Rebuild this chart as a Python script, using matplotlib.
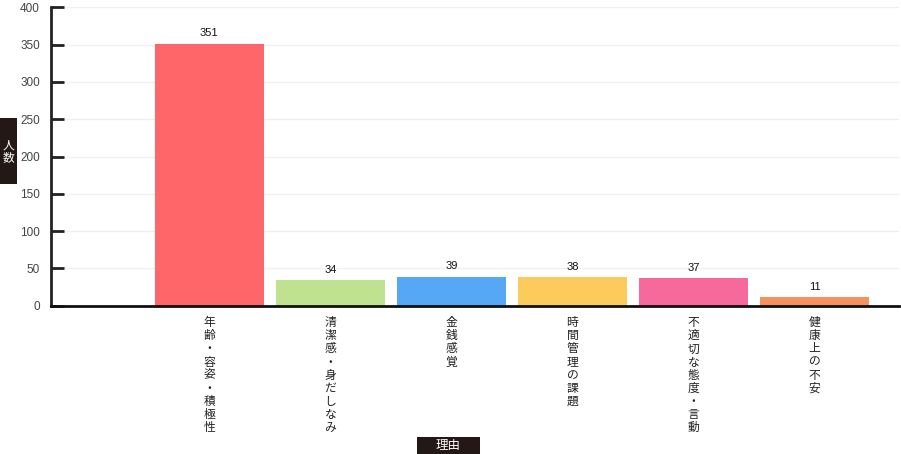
import matplotlib
matplotlib.use('Agg')
import matplotlib.pyplot as plt
from matplotlib.patches import Rectangle

plt.rcParams['font.family'] = ['Noto Sans CJK JP', 'DejaVu Sans']

# データ
reasons = ['年齢・容姿・積極性', '清潔感・身だしなみ', '金銭感覚', '時間管理の課題', '不適切な態度・言動', '健康上の不安']
counts = [351, 34, 39, 38, 37, 11]
barColors = ['#FF6669', '#BEE28F', '#56A8F6', '#FDCB5C', '#F5699B', '#F69260']
yTicks = [0, 50, 100, 150, 200, 250, 300, 350, 400]
xTitle = '理由'
yTitle = '人数'

W, H = 901, 454
fig = plt.figure(figsize=(W / 100, H / 100), dpi=100)
ax = fig.add_axes([51 / W, (H - 305.7) / H, (899 - 51) / W, (305.7 - 7.3) / H])

xs = list(range(len(reasons)))
bars = ax.bar(xs, counts, width=0.9, color=barColors, zorder=2)

numFont = ['Liberation Sans', 'DejaVu Sans']

# 棒の上の数値
for x, v in zip(xs, counts):
    ax.annotate(str(v), (x, v), xytext=(0, 4), textcoords='offset points',
                ha='center', va='bottom', fontsize=8, color='#111111', family=numFont)

ax.set_xlim(-1.308, 5.698)
ax.set_ylim(0, 400)
ax.set_yticks(yTicks)
ax.set_yticklabels([str(t) for t in yTicks], fontsize=8.5, color='#444444', family=numFont)
ax.tick_params(axis='y', direction='in', length=9, width=2, color='#222222', pad=8)
ax.set_xticks([])
ax.grid(axis='y', color='#F0F0F0', linewidth=1, zorder=0)

for s in ['top', 'right']:
    ax.spines[s].set_visible(False)
ax.spines['left'].set_linewidth(2)
ax.spines['left'].set_color('#222222')
ax.spines['bottom'].set_linewidth(2)
ax.spines['bottom'].set_color('#111111')

# 縦書きのラベル(1文字ずつ)
step = 9.45  # pt
for x, name in zip(xs, reasons):
    for k, ch in enumerate(name):
        ax.annotate(ch, (x, 0), xycoords=('data', 'axes fraction'),
                    xytext=(0, -12.2 - k * step), textcoords='offset points',
                    ha='center', va='center', fontsize=8.5, color='#222222')

# 軸タイトル(黒い箱)
fig.patches.append(Rectangle((0, 1 - 184 / H), 17 / W, 66 / H, transform=fig.transFigure,
                             facecolor='#231815', edgecolor='none', zorder=0))
for k, ch in enumerate(yTitle):
    fig.text(8.5 / W, 1 - (145 + k * 13) / H, ch, ha='center', va='center',
             color='white', fontsize=8.5)
fig.patches.append(Rectangle((417 / W, 0), 63 / W, 17 / H, transform=fig.transFigure,
                             facecolor='#231815', edgecolor='none', zorder=0))
fig.text(448.5 / W, 1 - 445.5 / H, xTitle, ha='center', va='center',
         color='white', fontsize=9)

fig.savefig('out.png', dpi=100)
